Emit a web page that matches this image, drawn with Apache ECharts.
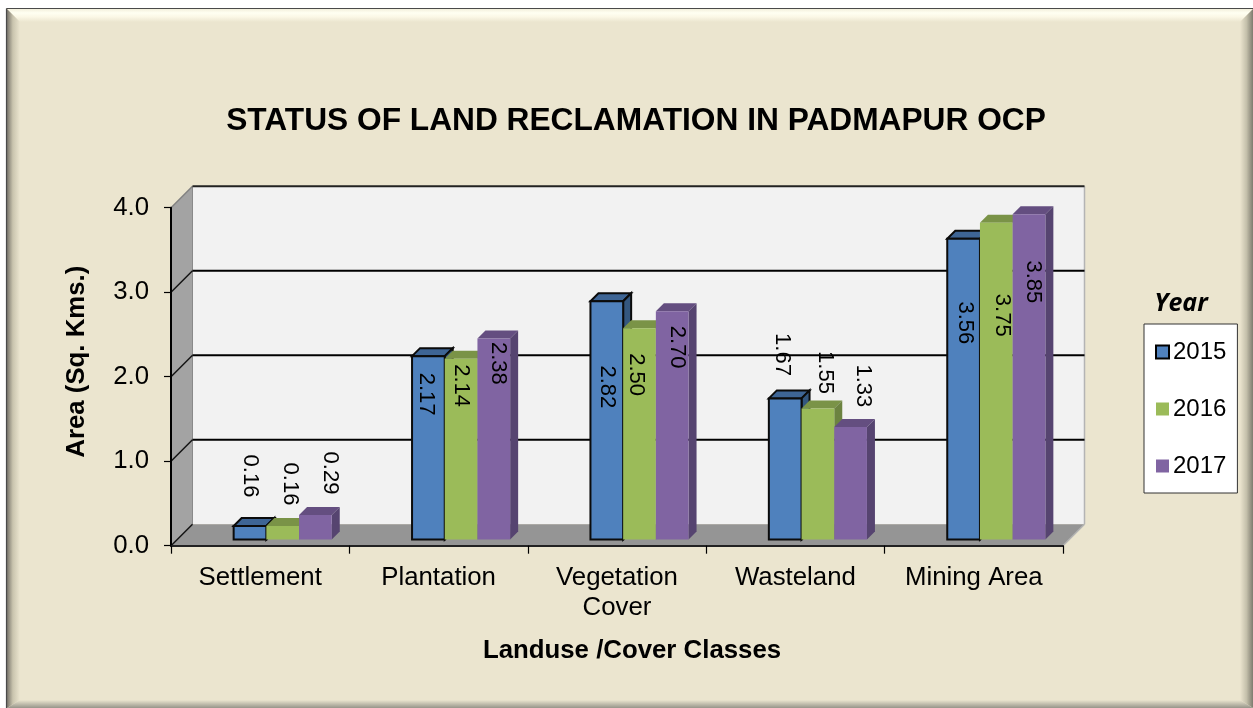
<!DOCTYPE html>
<html>
<head>
<meta charset="utf-8">
<title>Status of land reclamation</title>
<script src="https://cdn.jsdelivr.net/npm/echarts@6/dist/echarts.min.js"></script>
<style>
  html, body { margin: 0; padding: 0; background: #fff; }
  #main { width: 1253px; height: 708px; }
</style>
</head>
<body>
<div id="main"></div>
<script>
const categories = ['Settlement', 'Plantation', 'Vegetation\nCover', 'Wasteland', 'Mining Area'];
const years = ['2015', '2016', '2017'];
const values2015 = [0.16, 2.17, 2.82, 1.67, 3.56];
const values2016 = [0.16, 2.14, 2.50, 1.55, 3.75];
const values2017 = [0.29, 2.38, 2.70, 1.33, 3.85];
const yTicks = [0, 1, 2, 3, 4];

// the data labels were dragged around by hand in the original, so each has its own nudge
const nudge2015 = [[0, -50], [-2.4, 38], [0.5, 85.7], [-2.9, -43.9], [1.4, 84.2]];
const nudge2016 = [[7.5, -42], [-0.4, 27], [-3.5, 46.3], [7.1, -36], [5.4, 92.6]];
const nudge2017 = [[15, -42], [3.9, 25], [4.5, 35.7], [12.1, -41.2], [4, 67.7]];

const FONT = '"Liberation Sans", Arial, sans-serif';
const WALL_DEPTH = 21.5;   // how far the back wall sits behind the axes
const BAR_INSET = 6.2;     // bars stand a little in from the front edge of the floor
const BAR_DEPTH = 8;
const BAR_RATIO = 0.1833;  // bar width as part of a category band
const GROUP_SHIFT = 22.5;  // the group sits right of the band centre

function poly(points, fill, extra) {
  return Object.assign({
    type: 'polygon',
    shape: { points: points },
    style: { fill: fill }
  }, extra || {});
}

function line(x1, y1, x2, y2, color, width) {
  return {
    type: 'line',
    shape: { x1: x1, y1: y1, x2: x2, y2: y2 },
    style: { stroke: color, lineWidth: width }
  };
}

function renderWalls(params, api) {
  const sys = params.coordSys;
  const d = WALL_DEPTH;
  const x0 = sys.x, x1 = sys.x + sys.width;
  const yBottom = api.coord([0, 0])[1];
  const yTop = api.coord([0, 4])[1];
  const children = [
    poly([[x0 + d, yBottom - d], [x1 + d, yBottom - d], [x1 + d, yTop - d], [x0 + d, yTop - d]], '#f2f2f2'),
    poly([[x0, yBottom], [x0 + d, yBottom - d], [x0 + d, yTop - d], [x0, yTop]], '#a3a3a3'),
    poly([[x0, yBottom], [x1, yBottom], [x1 + d, yBottom - d], [x0 + d, yBottom - d]], '#959595'),
    line(x1 + d, yTop - d, x1 + d, yBottom - d, '#b4b4b4', 1.5),
    line(x1, yBottom, x1 + d, yBottom - d, '#b4b4b4', 1.5),
    line(x0 + d, yTop - d, x0 + d, yBottom - d, '#8a8a8a', 1),
    line(x0, yTop, x0 + d, yTop - d, '#808080', 1.5)
  ];
  yTicks.forEach(function (t) {
    const y = api.coord([0, t])[1];
    if (t > 0) {
      children.push(line(x0 + d, y - d, x1 + d, y - d, t === 4 ? '#222' : '#000', 2));
    }
    if (t < 4) {
      children.push(line(x0, y, x0 + d, y - d, '#111', 1.5));
    }
  });
  return { type: 'group', children: children };
}

function barSeries(name, seriesIndex, values, nudges, colors, outlined) {
  return {
    name: name,
    type: 'custom',
    coordinateSystem: 'cartesian2d',
    itemStyle: { color: colors.front },
    encode: { x: 0, y: 1 },
    data: values.map(function (v, i) { return [i, v]; }),
    clip: false,
    renderItem: function (params, api) {
      const band = api.size([1, 0])[0];
      const w = band * BAR_RATIO;
      const i = api.value(0);
      const v = api.value(1);
      const top = api.coord([i, v]);
      const base = api.coord([i, 0]);
      const left = top[0] + GROUP_SHIFT + (seriesIndex - 1.5) * w;
      const right = left + w;
      const yTop = top[1] - BAR_INSET;
      const yBase = base[1] - BAR_INSET;
      const d = BAR_DEPTH;
      const edge = outlined ? { stroke: '#0b0b0b', lineWidth: 2, lineJoin: 'miter' } : {};
      const nudge = nudges[i];
      return {
        type: 'group',
        children: [
          poly([[left, yTop], [left + d, yTop - d], [right + d, yTop - d], [right, yTop]], colors.top,
            { style: Object.assign({ fill: colors.top }, edge) }),
          poly([[right, yTop], [right + d, yTop - d], [right + d, yBase - d], [right, yBase]], colors.side,
            { style: Object.assign({ fill: colors.side }, edge) }),
          {
            type: 'rect',
            shape: { x: left, y: yTop, width: w, height: yBase - yTop },
            style: Object.assign({ fill: colors.front }, edge)
          },
          {
            type: 'text',
            x: left + w / 2 + nudge[0],
            y: yTop + nudge[1],
            rotation: -Math.PI / 2,
            z2: 20,
            style: {
              text: v.toFixed(2),
              fill: '#000',
              font: '22px ' + FONT,
              align: 'center',
              verticalAlign: 'middle'
            }
          }
        ]
      };
    }
  };
}

function grad(horizontal, stops) {
  return {
    type: 'linear',
    x: 0, y: 0,
    x2: horizontal ? 1 : 0,
    y2: horizontal ? 0 : 1,
    colorStops: stops.map(function (s) { return { offset: s[0], color: s[1] }; })
  };
}

const beige = '#ebe5cf';

const chart = echarts.init(document.getElementById('main'), null, { renderer: 'canvas' });

chart.setOption({
  animation: false,
  backgroundColor: '#fff',
  graphic: [
    { type: 'rect', z: -10, shape: { x: 6, y: 8, width: 1247, height: 700 }, style: { fill: beige } },
    { type: 'polygon', z: -9, shape: { points: [[7, 9], [1253, 9], [1240, 22], [20, 22]] },
      style: { fill: grad(false, [[0, '#f3f0dc'], [0.3, '#fffff2'], [0.6, '#fbf8e6'], [1, beige]]) } },
    { type: 'polygon', z: -9, shape: { points: [[7, 9], [20, 22], [20, 700], [7, 708]] },
      style: { fill: grad(true, [[0, '#77736a'], [0.45, '#c9c4ae'], [1, beige]]) } },
    { type: 'polygon', z: -9, shape: { points: [[1253, 9], [1240, 22], [1240, 700], [1253, 708]] },
      style: { fill: grad(true, [[0, beige], [0.5, '#c4c0ab'], [1, '#7d7b6e']]) } },
    { type: 'polygon', z: -9, shape: { points: [[7, 708], [20, 700], [1240, 700], [1253, 708]] },
      style: { fill: grad(false, [[0, beige], [1, '#97958a']]) } },
    { type: 'line', z: -8, shape: { x1: 6.5, y1: 8.5, x2: 1253, y2: 8.5 }, style: { stroke: '#4a4a4a', lineWidth: 1.2 } },
    { type: 'line', z: -8, shape: { x1: 6.5, y1: 8.5, x2: 6.5, y2: 708 }, style: { stroke: '#4a4a4a', lineWidth: 1.2 } },
    { type: 'text', x: 1181, y: 304, z: 5,
      style: { text: 'Year', font: 'italic bold 25px "Open Sans", sans-serif', fill: '#000', align: 'center', verticalAlign: 'middle' } }
  ],
  title: {
    text: 'STATUS OF LAND RECLAMATION IN PADMAPUR OCP',
    left: 631,
    top: 100,
    textAlign: 'center',
    textStyle: { fontFamily: FONT, fontWeight: 'bold', fontSize: 31.7, color: '#000' }
  },
  legend: {
    orient: 'vertical',
    left: 1144,
    top: 324,
    selectedMode: false,
    backgroundColor: '#fff',
    borderColor: '#333',
    borderWidth: 1,
    padding: [16, 11, 15, 11],
    itemGap: 33,
    itemWidth: 13,
    itemHeight: 13,
    textStyle: { fontFamily: FONT, fontSize: 24, color: '#000', lineHeight: 24, padding: [0, 0, 0, -1] },
    data: [
      { name: years[0], icon: 'rect', itemStyle: { color: '#4f81bd', borderColor: '#000', borderWidth: 2 } },
      { name: years[1], icon: 'rect', itemStyle: { color: '#9bbb59', borderWidth: 0 } },
      { name: years[2], icon: 'rect', itemStyle: { color: '#8064a2', borderWidth: 0 } }
    ]
  },
  grid: { left: 171, right: 190, top: 207.7, bottom: 162.3, containLabel: false },
  xAxis: {
    type: 'category',
    data: categories,
    z: 5,
    name: 'Landuse /Cover Classes',
    nameLocation: 'middle',
    nameGap: 92,
    nameTextStyle: { fontFamily: FONT, fontWeight: 'bold', fontSize: 25.8, color: '#000', padding: [0, 0, 0, 30] },
    axisLine: { lineStyle: { color: '#222', width: 2 } },
    axisTick: { show: true, length: 8, alignWithLabel: false, lineStyle: { color: '#000', width: 1.2 } },
    axisLabel: { interval: 0, margin: 17, fontFamily: FONT, fontSize: 25.8, color: '#000', lineHeight: 30 },
    splitLine: { show: false }
  },
  yAxis: {
    type: 'value',
    min: 0,
    max: 4,
    interval: 1,
    z: 5,
    name: 'Area (Sq. Kms.)',
    nameLocation: 'middle',
    nameGap: 81,
    nameTextStyle: { fontFamily: FONT, fontWeight: 'bold', fontSize: 25.8, color: '#000', padding: [0, 0, 0, 30] },
    axisLine: { show: true, lineStyle: { color: '#000', width: 2 } },
    axisTick: { show: true, length: 7, lineStyle: { color: '#000', width: 1.2 } },
    axisLabel: {
      margin: 22, fontFamily: FONT, fontSize: 25.8, color: '#000', padding: [6, 0, 0, 0],
      formatter: function (v) { return v.toFixed(1); }
    },
    splitLine: { show: false }
  },
  series: [
    {
      name: 'walls',
      type: 'custom',
      coordinateSystem: 'cartesian2d',
      silent: true,
      clip: false,
      encode: { x: 0, y: 1 },
      data: [[0, 0]],
      renderItem: renderWalls
    },
    barSeries(years[0], 0, values2015, nudge2015, { front: '#4f81bd', top: '#3e6595', side: '#34577f' }, true),
    barSeries(years[1], 1, values2016, nudge2016, { front: '#9bbb59', top: '#7a9347', side: '#6c8340' }, false),
    barSeries(years[2], 2, values2017, nudge2017, { front: '#8064a2', top: '#644e80', side: '#564470' }, false)
  ]
});
</script>
</body>
</html>
